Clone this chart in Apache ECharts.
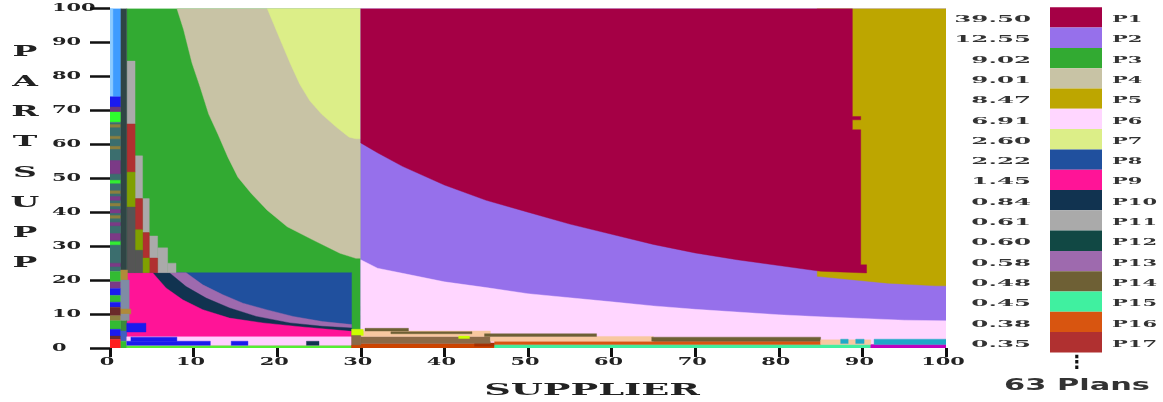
<!DOCTYPE html>
<html><head><meta charset="utf-8">
<script src="https://cdn.jsdelivr.net/npm/echarts@6/dist/echarts.min.js"></script>
<style>html,body{margin:0;padding:0;background:#fff}#c{width:1163px;height:402px}</style>
</head><body><div id="c"></div>
<script>
// ---------- legend data ----------
const planNames = ['P1','P2','P3','P4','P5','P6','P7','P8','P9','P10','P11','P12','P13','P14','P15','P16','P17'];
const planCosts = ['39.50','12.55','9.02','9.01','8.47','6.91','2.60','2.22','1.45','0.84','0.61','0.60','0.58','0.48','0.45','0.38','0.35'];
const planColors = ['#A50045','#9670EB','#32AA32','#C8C3A5','#BDA600','#FFD6FF','#DCEE88','#20509E','#FF1497','#113350','#AAAAAA','#114844','#9E6AAE','#6E6035','#40F0A0','#D85510','#B03030'];
const planCountLabel = '63 Plans';
// colours of further (unlisted) plans
const otherColors = {
  olive:'#80A000', dgray:'#555555', lblue:'#3E9CFF', xlblue:'#8CCBFF', blue:'#1A1AEE', plum:'#6A3A7A', lime:'#2EFF2E',
  teal:'#3B6E6E', khaki:'#8C7F3E', purple:'#7B3A86', green2:'#33EE33', green3:'#33BB33', maroon:'#6B2A2A', red:'#FF2020',
  slate:'#2F4545', ochre:'#B08A3A', steel:'#7F8CA5', gray2:'#8A8F99', green4:'#3A8A3A', blue2:'#4060C0',
  gline:'#55EE33', lpink:'#FFD0FF', rust:'#CC4400', dred:'#A83000', magenta:'#C000C0', brown:'#8A6A48', peach:'#F8C8A0',
  cyan:'#20A8C8', yellow:'#CCFF00'
};
// ---------- axes ----------
const xTicks = [0,10,20,30,40,50,60,70,80,90,100];
const yTicks = [0,10,20,30,40,50,60,70,80,90,100];
const xTitle = 'SUPPLIER';
const yTitle = ['P','A','R','T','S','U','P','P'];

// ---------- region boundaries (SUPPLIER %, PARTSUPP %) ----------
const P3_base = [2,0,30,100];
const P4_edge = [[8.0,100],[8.8,93.8],[9.8,84],[10.8,76.7],[11.8,68.9],[12.9,63],[14.1,56.2],[15.3,50.3],[16.9,45.5],[18.8,40.6],[21.2,35.7],[24.3,31.8],[27.5,27.9],[29.4,26.4],[30,26.4],[30,100]];
const P7_edge = [[18.8,100],[19.6,95.3],[20.6,89.4],[21.6,83.6],[22.7,77.7],[23.9,72.8],[25.3,68.9],[27.1,65],[28.6,62.1],[29.4,61.6],[30,61.6],[30,100]];
const P8_box = [2,0,28.9,22.2];
const P13_edge = [[2,0],[2,22.2],[9.1,22.2],[11.1,18.6],[13.5,15.7],[15.9,13.2],[18.7,11.3],[21.9,9.3],[25.4,7.8],[28.9,6.9],[28.9,0]];
const P10_edge = [[2,0],[2,22.2],[7.1,22.2],[9.1,18.1],[11.5,14.7],[14.3,11.8],[17.5,9.3],[21.5,7.4],[25.4,6.4],[28.9,5.9],[28.9,0]];
const P9_edge = [[2,0],[2,22.2],[5.1,22.2],[6.7,17.7],[8.7,14.2],[11.1,11.3],[14.3,8.8],[18.3,7.4],[23,6.2],[28.9,4.9],[28.9,0]];
// staircase bands left of P3  [x0,y0,x1,y1]
const P11_cells = [[2,66,3,84.5],[3,44,3.9,56.6],[3.9,34,4.7,44],[4.7,26.5,5.7,33],[5.7,22.2,6.9,29.5],[6.9,22.2,7.9,25]];
const P17_cells = [[2,51.8,3,66],[3,34.8,3.9,44],[3.9,26.5,4.7,34],[4.7,22.2,5.7,26.5]];
const olive_cells = [[2,41.5,3,51.8],[3,28.8,3.9,34.8],[3.9,22.2,4.7,26.5]];
const dgray_cells = [[2,22.2,3,41.5],[3,22.2,3.9,28.8]];
// narrow strip at SUPPLIER 0-2 : [x0,y0,x1,y1,colourKey]
const strip_cells = [
  [0,74,1.3,100,'lblue'],[0,74,0.35,100,'xlblue'],[0,71,1.3,74,'blue'],[0,69.5,1.3,71,'plum'],[0,66.5,1.3,69.5,'lime'],
  [0,22.5,1.3,66.5,'teal'],
  [0,65,1.3,65.8,'khaki'],[0,61.6,1.3,62.4,'khaki'],[0,58.6,1.3,59.4,'khaki'],[0,45.5,1.3,46.3,'khaki'],[0,41.8,1.3,42.6,'khaki'],[0,38.2,1.3,39,'khaki'],
  [0,51.3,1.3,55.2,'purple'],[0,43.5,1.3,44.6,'purple'],[0,39.8,1.3,40.8,'purple'],[0,36,1.3,37,'purple'],[0,31.8,1.3,33.7,'purple'],[0,24,1.3,25,'purple'],
  [0,48.5,1.3,49.4,'green2'],[0,30.4,1.3,31.3,'green2'],
  [0,19.5,1.3,22.5,'green3'],[0,17.5,1.3,19.5,'purple'],[0,15.5,1.3,17.5,'blue'],[0,13.5,1.3,15.5,'green3'],[0,12,1.3,13.5,'blue'],
  [0,9.5,1.3,12,'maroon'],[0,8,1.3,9.5,'khaki'],[0,5.5,1.3,8,'green3'],[0,3.5,1.3,5.5,'blue'],[0,2.5,1.3,3.5,'maroon'],[0,0,1.3,2.5,'red'],
  [1.3,23,2.0,100,'slate'],[1.3,20,2.1,23,'ochre'],[1.3,11.5,2.3,20,'steel'],[1.3,10,2.5,11.5,'ochre'],[1.3,8,2.3,10,'gray2'],
  [1.3,5,2.0,8,'green4'],[1.3,2,2.0,5,'blue2'],[1.3,0,2.0,2,'green3']
];
// bottom strips under P9 (SUPPLIER 2-30)
const lowLeft_cells = [
  [2,0,30,0.8,'gline'],[2,0.8,28.9,3.3,'lpink'],[2,0.8,12,2.0,'blue'],[14.5,0.8,16.5,2.0,'blue'],[23.5,0.8,25,2.0,'P10'],
  [2.5,2.0,8,3.2,'blue'],[2,4.7,4.3,7.3,'blue'],
  [30,6.8,30.7,9.5,'P3'],[30,11.1,30.9,12.2,'P3']
];
// right half
const P2_box = [30,0,100,100];
const P5_edge = [[84.6,100],[100,100],[100,18.3],[98.8,18.3],[93,19.1],[88.8,20.1],[84.6,21.1]];
const P1_edge = [[30,100],[88.8,100],[88.8,68.2],[89.8,68.2],[89.8,67.2],[88.8,67.2],[88.8,64.3],[89.8,64.3],[89.8,24.5],[90.5,24.5],[90.5,22.1],
  [85,22.6],[80,24.3],[75,26],[70,28],[65,30.5],[60,33.5],[55,36.5],[50,40],[45,43.5],[40,48],[35,53.5],[32,57.5],[30,60.4]];
const P6_edge = [[30,0],[30,26],[32,23.5],[35,22],[40,19.5],[45,17.8],[50,16],[55,14.8],[60,13.6],[65,12.4],[70,11.4],[75,10.6],[80,9.8],[85,9.2],[90,8.7],[95,8.2],[100,8.0],[100,0]];
const lowRight_cells = [
  [30,0,46,1.3,'rust'],[43.6,0.5,46,1.5,'dred'],[46,0,91,1.0,'P15'],[91,0,100,1.0,'magenta'],[46,1.0,85,2.0,'P16'],
  [30,1.3,45.5,3.4,'brown'],[30,3.4,45.5,5.0,'peach'],[45.5,2.0,65,3.4,'peach'],[64.8,2.0,85,3.2,'P14'],[85,1.0,91,2.4,'peach'],
  [87.4,1.3,88.3,2.6,'cyan'],[89.2,1.3,90.2,2.6,'cyan'],[91.4,1.0,100,2.6,'cyan'],
  [30.5,5.0,35.7,5.8,'P14'],[33.6,4.2,43.3,4.8,'P14'],[44.8,3.4,58.2,4.2,'P14'],
  [28.9,3.7,30.3,5.5,'yellow'],[41.7,2.8,43,3.5,'yellow'],[28.9,0,30,3.7,'brown'],[28.9,0,30,0.8,'rust']
];

// ---------- build drawing layers ----------
function colourOf(key){ const i = planNames.indexOf(key); return i >= 0 ? planColors[i] : otherColors[key]; }
function rectPts(r){ return [[r[0],r[1]],[r[2],r[1]],[r[2],r[3]],[r[0],r[3]]]; }
const layers = [];
function addPoly(pts, key){ layers.push({pts, color: colourOf(key)}); }
function addCells(cells, key){ cells.forEach(c => addPoly(rectPts(c), key || c[4])); }
addPoly(rectPts(P3_base),'P3');
addPoly(P4_edge,'P4');
addPoly(P7_edge,'P7');
addPoly(rectPts(P8_box),'P8');
addPoly(P13_edge,'P13');
addPoly(P10_edge,'P10');
addPoly(P9_edge,'P9');
addCells(P11_cells,'P11');
addCells(P17_cells,'P17');
addCells(olive_cells,'olive');
addCells(dgray_cells,'dgray');
addCells(strip_cells);
addCells(lowLeft_cells);
addPoly(rectPts(P2_box),'P2');
addPoly(P5_edge,'P5');
addPoly(P1_edge,'P1');
addPoly(P6_edge,'P6');
addCells(lowRight_cells);

const chart = echarts.init(document.getElementById('c'), null, {renderer:'canvas'});
const GRID = {left:110, right:217, top:8.5, bottom:54};
chart.setOption({
  animation:false,
  grid:GRID,
  xAxis:{type:'value',min:0,max:100,interval:10,axisLine:{show:false},splitLine:{show:false},
    axisTick:{show:true,length:9,lineStyle:{color:'#111',width:3}},axisLabel:{show:false}},
  yAxis:{type:'value',min:0,max:100,interval:10,axisLine:{show:false},splitLine:{show:false},
    axisTick:{show:true,length:20,lineStyle:{color:'#111',width:2.5}},axisLabel:{show:false}},
  series:[{
    type:'custom', clip:true, coordinateSystem:'cartesian2d',
    data: layers.map((l,i)=>({value:[l.pts[0][0], l.pts[0][1], i]})),
    encode:{x:0,y:1},
    renderItem:function(params, api){
      const l = layers[params.dataIndex];
      return {type:'polygon', shape:{points:l.pts.map(p=>api.coord(p))}, style:{fill:l.color, stroke:l.color, lineWidth:0.4}};
    }
  }]
});

// ---------- texts (stretched wide like the original raster) ----------
const SERIF = '"DejaVu Serif", "Liberation Serif", serif';
const g = [];
xTicks.forEach(v=>{
  const p = chart.convertToPixel({gridIndex:0},[v,0]);
  g.push({type:'text', x:p[0]-3, y:362.5, scaleX:1.9, silent:true,
    style:{text:String(v), font:'bold 11px '+SERIF, fill:'#222', align:'center', verticalAlign:'middle'}});
});
yTicks.forEach(v=>{
  const p = chart.convertToPixel({gridIndex:0},[0,v]);
  g.push({type:'text', x:52, y:p[1], scaleX:1.9, silent:true,
    style:{text:String(v), font:'bold 11px '+SERIF, fill:'#222', align:'left', verticalAlign:'middle'}});
});
g.push({type:'text', x:592, y:391, scaleX:2.3, silent:true,
  style:{text:xTitle, font:'bold 16px '+SERIF, fill:'#222', align:'center', verticalAlign:'middle'}});
yTitle.forEach((ch,i)=>{
  g.push({type:'text', x:25, y:52+30.2*i, scaleX:2.2, silent:true,
    style:{text:ch, font:'bold 15px '+SERIF, fill:'#222', align:'center', verticalAlign:'middle'}});
});
// legend
const LEG_TOP = 7.3, LEG_ROW = 20.3;
planNames.forEach((n,i)=>{
  const y0 = LEG_TOP + LEG_ROW*i;
  g.push({type:'rect', silent:true, shape:{x:1050, y:y0, width:52, height:LEG_ROW}, style:{fill:planColors[i]}});
  g.push({type:'text', x:1031, y:y0+LEG_ROW/2+2, scaleX:2.45, silent:true,
    style:{text:planCosts[i], font:'bold 10px '+SERIF, fill:'#333', align:'right', verticalAlign:'middle'}});
  g.push({type:'text', x:1112, y:y0+LEG_ROW/2+2, scaleX:2.1, silent:true,
    style:{text:n, font:'bold 10px '+SERIF, fill:'#333', align:'left', verticalAlign:'middle'}});
});
g.push({type:'text', x:1077, y:363, silent:true,
  style:{text:'\u22EE', font:'bold 18px "DejaVu Sans", sans-serif', fill:'#111', align:'center', verticalAlign:'middle'}});
g.push({type:'text', x:1077, y:386, scaleX:1.9, silent:true,
  style:{text:planCountLabel, font:'bold 16px "DejaVu Sans", sans-serif', fill:'#333', align:'center', verticalAlign:'middle'}});
chart.setOption({graphic:g});
</script></body></html>
